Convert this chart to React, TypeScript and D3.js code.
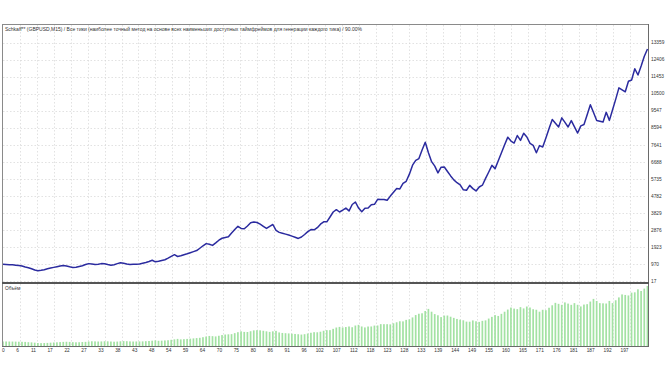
import React from "react";
import * as d3 from "d3";

const TITLE =
  "Schkaff** (GBPUSD,M15) / Все тики (наиболее точный метод на основе всех наименьших доступных таймфреймов для генерации каждого тика) / 90.00%";
const VOLUME_LABEL = "Объём";

const balance: number[] = [
  949, 940, 930, 925, 905, 885, 860, 800, 760, 700,
  630, 595, 620, 650, 700, 740, 780, 820, 860, 890,
  860, 810, 775, 790, 830, 870, 940, 990, 970, 945,
  960, 990, 985, 940, 900, 930, 990, 1035, 1010, 970,
  940, 950, 960, 966, 1010, 1050, 1110, 1180, 1090, 1120,
  1170, 1206, 1300, 1400, 1490, 1390, 1430, 1490, 1540, 1600,
  1660, 1720, 1850, 1990, 2110, 2070, 2010, 2150, 2300, 2410,
  2450, 2490, 2700, 2900, 3080, 2960, 2940, 3100, 3280, 3320,
  3290, 3200, 3080, 2960, 3080, 3180, 2850, 2740, 2690, 2640,
  2590, 2530, 2470, 2400, 2480, 2620, 2780, 2900, 2880, 3000,
  3200, 3328, 3330, 3600, 3880, 4010, 3880, 3980, 4100, 3940,
  4300, 4440, 4100, 3900, 4090, 4100, 4290, 4310, 4590, 4585,
  4580, 4540, 4770, 4980, 5190, 5170, 5480, 5600, 6000, 6500,
  6770, 6870, 7350, 7790, 7200, 6700, 6450, 6070, 6390, 6400,
  6150, 5900, 5680, 5520, 5400, 5120, 5100, 5370, 5190, 5060,
  5280, 5380, 5760, 6120, 6490, 6310, 6750, 7200, 7650, 8070,
  7850, 7740, 8160, 7890, 8290, 8080, 7720, 7610, 7200, 7600,
  7520, 8030, 8550, 9060, 8850, 8640, 9150, 8900, 8640, 9000,
  8650, 8300, 8700, 8780, 9330, 9890, 9450, 9000, 8960, 8920,
  9460, 9010, 9600, 10200, 10830, 10720, 10610, 11200, 11270, 11900,
  11550, 12050, 12600, 13010,
];

const volume: number[] = [
  0.95, 0.95, 0.94, 0.93, 0.92, 0.9, 0.88, 0.86, 0.8, 0.76,
  0.7, 0.63, 0.6, 0.62, 0.65, 0.7, 0.74, 0.78, 0.82, 0.86,
  0.89, 0.86, 0.81, 0.78, 0.79, 0.83, 0.87, 0.94, 0.99, 0.97,
  0.94, 0.96, 0.99, 0.98, 0.94, 0.9, 0.93, 0.99, 1.03, 1.01,
  0.97, 0.94, 0.95, 0.96, 0.97, 1.01, 1.05, 1.11, 1.18, 1.09,
  1.12, 1.17, 1.21, 1.3, 1.4, 1.49, 1.39, 1.43, 1.49, 1.54,
  1.6, 1.66, 1.72, 1.85, 1.99, 2.11, 2.07, 2.01, 2.15, 2.3,
  2.41, 2.45, 2.49, 2.7, 2.9, 3.08, 2.96, 2.94, 3.1, 3.28,
  3.32, 3.29, 3.2, 3.08, 2.96, 3.08, 3.18, 2.85, 2.74, 2.69,
  2.64, 2.59, 2.53, 2.47, 2.4, 2.48, 2.62, 2.78, 2.9, 2.88,
  3.0, 3.2, 3.33, 3.33, 3.6, 3.88, 4.01, 3.88, 3.98, 4.1,
  3.94, 4.3, 4.44, 4.1, 3.9, 4.09, 4.1, 4.29, 4.31, 4.59,
  4.58, 4.58, 4.54, 4.77, 4.98, 5.19, 5.17, 5.48, 5.6, 6.0,
  6.5, 6.77, 6.87, 7.35, 7.79, 7.2, 6.7, 6.45, 6.07, 6.39,
  6.4, 6.15, 5.9, 5.68, 5.52, 5.4, 5.12, 5.1, 5.37, 5.19,
  5.06, 5.28, 5.38, 5.76, 6.12, 6.49, 6.31, 6.75, 7.2, 7.65,
  8.07, 7.85, 7.74, 8.16, 7.89, 8.29, 8.08, 7.72, 7.61, 7.2,
  7.6, 7.52, 8.03, 8.55, 9.06, 8.85, 8.64, 9.15, 8.9, 8.64,
  9.0, 8.65, 8.3, 8.7, 8.78, 9.33, 9.89, 9.45, 9.0, 8.96,
  8.92, 9.46, 9.01, 9.6, 10.2, 10.83, 10.72, 10.61, 11.2, 11.27,
  11.9, 11.55, 12.05, 12.6,
];

const yTickLabels: number[] = [
  17, 970, 1923, 2876, 3829, 4782, 5735, 6688, 7641, 8594, 9547, 10500, 11453, 12406, 13359,
];

const xTickLabels: string[] = [
  "0", "6", "11", "17", "22", "27", "33", "38", "43", "48", "54", "59", "64", "70", "75", "80",
  "86", "91", "96", "102", "107", "112", "118", "123", "128", "133", "139", "144", "149", "155",
  "160", "165", "171", "176", "181", "187", "192", "197",
];

const W = 672;
const H = 378;
const LEFT = 2;
const RIGHT = 648;
const TOP = 24;
const SEP = 283;
const BOTTOM = 346;
const FONT = "'Liberation Sans', Arial, sans-serif";

export default function App() {
  const n = balance.length;
  const x = d3.scaleLinear().domain([0, n - 1]).range([3, 647.5]);
  const y = d3.scaleLinear().domain([17, 13359]).range([281, 42.7]);
  const vMax = d3.max(volume) as number;
  const yv = d3.scaleLinear().domain([0, vMax * 1.033]).range([BOTTOM, SEP + 1]);

  const line = d3
    .line<number>()
    .x((_, i) => x(i))
    .y((d) => y(d));

  const tickStep = 16 / 3;
  const xTicks = xTickLabels.map((lab, k) => ({ lab, px: x(k * tickStep) }));

  return (
    <svg
      width={W}
      height={H}
      style={{ position: "absolute", left: 0, top: 0, background: "#fff" }}
    >
      <rect x={0} y={0} width={W} height={H} fill="#fff" />
      {yTickLabels.map((v) => (
        <line
          key={"hg" + v}
          x1={LEFT + 1}
          x2={RIGHT - 1}
          y1={Math.round(y(v)) + 0.5}
          y2={Math.round(y(v)) + 0.5}
          stroke="#d6d6d6"
          strokeWidth={0.7}
          strokeDasharray="1.5,2"
        />
      ))}
      {xTicks.slice(1).map((t) => (
        <line
          key={"vg" + t.lab}
          x1={Math.round(t.px) + 0.5}
          x2={Math.round(t.px) + 0.5}
          y1={TOP + 1}
          y2={BOTTOM}
          stroke="#d6d6d6"
          strokeWidth={0.7}
          strokeDasharray="1.5,2"
        />
      ))}
      {volume.map((v, i) => (
        <rect
          key={"vb" + i}
          x={x(i) - 0.9}
          y={yv(v)}
          width={1.7}
          height={BOTTOM - yv(v)}
          fill="#a3e2a3"
        />
      ))}
      <path d={line(balance) || ""} fill="none" stroke="#2b2b9f" strokeWidth={1.5} strokeLinejoin="round" />
      <line x1={LEFT + 0.5} x2={LEFT + 0.5} y1={TOP} y2={BOTTOM} stroke="#8a8a8a" strokeWidth={1} />
      <line x1={LEFT} x2={RIGHT} y1={TOP + 0.5} y2={TOP + 0.5} stroke="#8a8a8a" strokeWidth={1} />
      <line x1={LEFT} x2={RIGHT} y1={BOTTOM + 0.5} y2={BOTTOM + 0.5} stroke="#6a6a6a" strokeWidth={1} />
      <line x1={RIGHT + 0.5} x2={RIGHT + 0.5} y1={TOP} y2={BOTTOM + 1} stroke="#6a6a6a" strokeWidth={1} />
      <line x1={LEFT} x2={RIGHT + 1} y1={SEP} y2={SEP} stroke="#555" strokeWidth={2} />
      <text x={5} y={31} fontFamily={FONT} fontSize={4.8} fill="#333" textLength={357} lengthAdjust="spacingAndGlyphs">
        {TITLE}
      </text>
      <text x={5} y={290} fontFamily={FONT} fontSize={4.8} fill="#333">
        {VOLUME_LABEL}
      </text>
      {yTickLabels.map((v) => (
        <text
          key={"yl" + v}
          x={651}
          y={y(v)}
          dy="0.35em"
          fontFamily={FONT}
          fontSize={4.8}
          fill="#333"
        >
          {v}
        </text>
      ))}
      {xTicks.map((t, k) => (
        <text
          key={"xl" + t.lab}
          x={k === 0 ? 2 : t.px - 1}
          y={352}
          textAnchor={k === 0 ? "start" : "end"}
          fontFamily={FONT}
          fontSize={4.8}
          fill="#333"
        >
          {t.lab}
        </text>
      ))}
    </svg>
  );
}
